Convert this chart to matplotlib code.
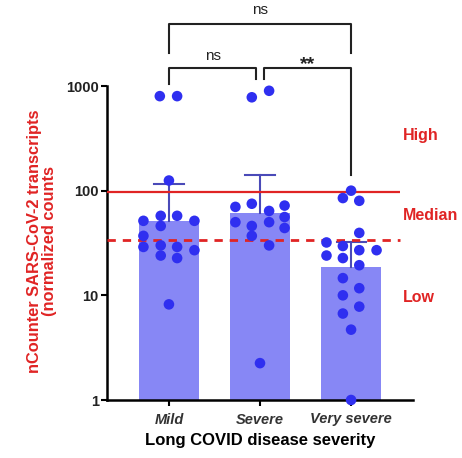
import numpy as np
import matplotlib.pyplot as plt
from matplotlib.transforms import blended_transform_factory

plt.rcParams['font.family'] = ['Liberation Sans', 'DejaVu Sans']

groups = ['Mild', 'Severe', 'Very severe']
bar_values = [51, 61, 18.5]
err_upper = [115, 140, 32]

# individual samples: (offset within group, value)
mild_offsets = [-0.1, 0.09, 0.0, -0.28, -0.09, -0.09, 0.09, 0.28, -0.28, -0.28,
                -0.09, -0.09, 0.09, 0.09, 0.28, 0.0]
mild_values = [800, 800, 125, 51.5, 57.5, 46, 57.5, 51.5, 37, 29,
               30, 24, 29, 22.7, 27, 8.2]
severe_offsets = [-0.09, 0.1, -0.27, -0.09, 0.1, 0.27, -0.27, -0.09, 0.1, 0.27,
                  0.27, -0.09, 0.1, 0.0]
severe_values = [780, 900, 70, 75, 64, 72, 50, 46, 50, 56,
                 44, 37, 30, 2.25]
vsev_offsets = [0.0, -0.09, 0.09, 0.09, -0.27, -0.09, 0.09, 0.28, -0.27, -0.09,
                0.09, -0.09, 0.09, -0.09, 0.09, -0.09, 0.0, 0.0]
vsev_values = [100, 85, 80, 39.5, 32, 29.6, 27, 27, 24, 22.7,
               19.4, 14.6, 11.7, 10, 7.8, 6.7, 4.7, 1.0]

high_cut = 97
median_cut = 34

dot_col = '#2f2ff0'
bar_col = '#8787f5'
err_col = '#4a4ab8'
red = '#e02424'

fig = plt.figure(figsize=(4.62, 4.58), dpi=100)
W, H = 462, 458
ax = fig.add_axes([107 / W, (H - 400) / H, (413 - 107) / W, (400 - 86) / H])

x = np.arange(len(groups))
ax.bar(x, bar_values, width=0.66, color=bar_col, zorder=1)
for xi, b, e in zip(x, bar_values, err_upper):
    ax.plot([xi, xi], [b, e], color=err_col, lw=1.5, zorder=2)
    ax.plot([xi - 0.16, xi + 0.16], [e, e], color=err_col, lw=1.5, zorder=2)

ax.hlines(high_cut, -0.68, 2.54, color=red, lw=1.6, zorder=3)
ax.hlines(median_cut, -0.68, 2.54, color=red, lw=2, linestyles=(0, (3, 2.5)), zorder=3)

for xi, offs, vals in zip(x, [mild_offsets, severe_offsets, vsev_offsets],
                          [mild_values, severe_values, vsev_values]):
    ax.scatter(xi + np.array(offs), vals, s=58, color=dot_col, zorder=4,
               edgecolors='none', clip_on=False)

ax.set_yscale('log')
ax.set_ylim(1, 1000)
ax.set_xlim(-0.68, 2.68)
ax.set_yticks([1, 10, 100, 1000])
ax.set_yticklabels(['1', '10', '100', '1000'])
ax.yaxis.set_minor_locator(plt.NullLocator())
ax.set_xticks(x)
ax.set_xticklabels(groups, fontstyle='italic', fontweight='bold', fontsize=10.5,
                   color='#333333')
for lab in ax.get_yticklabels():
    lab.set_fontweight('bold')
    lab.set_fontsize(10.5)
    lab.set_color('#222222')
ax.tick_params(width=1.5, length=4)
ax.tick_params(axis='x', pad=5)
ax.tick_params(axis='y', pad=2)
ax.spines['top'].set_visible(False)
ax.spines['right'].set_visible(False)
ax.spines['left'].set_linewidth(1.8)
ax.spines['bottom'].set_linewidth(1.8)

ax.set_xlabel('Long COVID disease severity', fontweight='bold', fontsize=12,
              labelpad=5)
fig.text(42 / W, 1 - 241 / H, 'nCounter SARS-CoV-2 transcripts\n(normalized counts',
         rotation=90, color=red, fontweight='bold', fontsize=11.8, ha='center',
         va='center', linespacing=1.05)

for label, ypx in [('High', 135), ('Median', 215), ('Low', 297)]:
    fig.text(403 / W, 1 - ypx / H, label, color=red, fontweight='bold',
             fontsize=11.5, ha='left', va='center')

# significance brackets
tr = blended_transform_factory(ax.transData, fig.transFigure)
def fy(px):
    return 1 - px / H

def bracket(x1, x2, y_top, y1_bot, y2_bot, text, ty, size=11, weight='normal'):
    ax.plot([x1, x1, x2, x2], [fy(y1_bot), fy(y_top), fy(y_top), fy(y2_bot)],
            color='#222222', lw=1.5, transform=tr, clip_on=False)
    ax.text((x1 + x2) / 2, fy(ty), text, transform=tr, ha='center', va='center',
            fontsize=size, fontweight=weight, color='#222222')

bracket(0, 2, 24, 53, 53, 'ns', 10)
bracket(0, 0.96, 68, 84, 79, 'ns', 56)
bracket(1.04, 2, 68, 79, 175, '**', 65, size=14, weight='bold')

fig.savefig('out.png', dpi=100)
